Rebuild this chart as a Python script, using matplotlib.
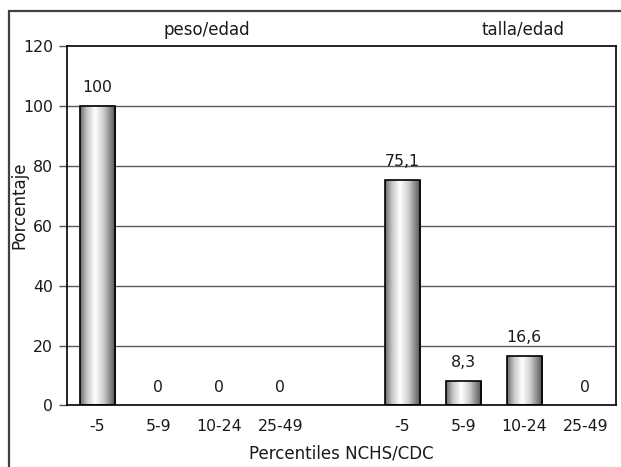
import numpy as np
import matplotlib
matplotlib.use("Agg")
import matplotlib.pyplot as plt
from matplotlib.patches import Rectangle
from matplotlib.colors import LinearSegmentedColormap

# ---- data ----
categories = ["-5", "5-9", "10-24", "25-49", "", "-5", "5-9", "10-24", "25-49"]
peso_edad = [100, 0, 0, 0]
talla_edad = [75.1, 8.3, 16.6, 0]
group_titles = ["peso/edad", "talla/edad"]
y_ticks = [0, 20, 40, 60, 80, 100, 120]
x_label = "Percentiles NCHS/CDC"
y_label = "Porcentaje"

plt.rcParams['font.family'] = ['DejaVu Sans']
FS = 11.3
FL = 12.0
TXT = "#1a1a1a"

fig = plt.figure(figsize=(6.21, 4.67), dpi=100)
ax = fig.add_axes([0.1074, 0.1317, 0.8841, 0.7704])

values = peso_edad + [np.nan] + talla_edad
x = np.arange(len(categories))

cmap = LinearSegmentedColormap.from_list(
    "cyl", [(0.0, "#6a6a6a"), (0.2, "#c8c8c8"), (0.42, "#ffffff"),
            (0.65, "#d0d0d0"), (0.88, "#7a7a7a"), (1.0, "#4a4a4a")])
grad = np.linspace(0, 1, 256).reshape(1, -1)

bar_vals = [v if not np.isnan(v) else 0 for v in values]
bars = ax.bar(x, bar_vals, width=0.58, facecolor="none", edgecolor="black",
              linewidth=1.2, zorder=3)

for b, v in zip(bars, values):
    if np.isnan(v):
        b.set_visible(False)
        continue
    x0, w, h = b.get_x(), b.get_width(), b.get_height()
    if h > 0:
        im = ax.imshow(grad, cmap=cmap, aspect="auto",
                       extent=[x0, x0 + w, 0, h], zorder=2,
                       interpolation="bicubic")
        im.set_clip_path(b)
    else:
        b.set_visible(False)
    lab = ("%g" % v).replace(".", ",")
    ax.annotate(lab, (x0 + w / 2, h), xytext=(0, 10), textcoords="offset points",
                ha="center", va="baseline", fontsize=FS, color=TXT, zorder=4)

ax.set_xlim(-0.5, len(categories) - 0.5)
ax.set_ylim(0, 120)
ax.set_yticks(y_ticks)
ax.set_yticklabels([str(t) for t in y_ticks], fontsize=FS, color=TXT)
ax.set_xticks(x)
ax.set_xticklabels(categories, fontsize=FS, color=TXT)
ax.tick_params(axis="x", length=0, pad=10)
ax.tick_params(axis="y", length=6, width=1, color="#555555", pad=4)

for t in y_ticks[1:-1]:
    ax.axhline(t, color="#5a5a5a", linewidth=1.0, zorder=1)

for s in ["left", "bottom", "top", "right"]:
    ax.spines[s].set_color("black")
    ax.spines[s].set_linewidth(1.2)

ax.set_xlabel(x_label, fontsize=FL, color=TXT, labelpad=7)
fig.text(19 / 621, 1 - 205 / 467, y_label, rotation=90, fontsize=FL,
         ha="center", va="center", color=TXT)

fig.text(207 / 621, 1 - 30 / 467, group_titles[0], fontsize=FL,
         ha="center", va="center", color=TXT)
fig.text(523 / 621, 1 - 30 / 467, group_titles[1], fontsize=FL,
         ha="center", va="center", color=TXT)

frame = Rectangle((9 / 621, -0.05), 1.2, 1 - 11 / 467 + 0.05,
                  transform=fig.transFigure, fill=False,
                  edgecolor="#404040", linewidth=1.6, clip_on=False)
fig.patches.append(frame)

fig.savefig("out.png", dpi=100)
